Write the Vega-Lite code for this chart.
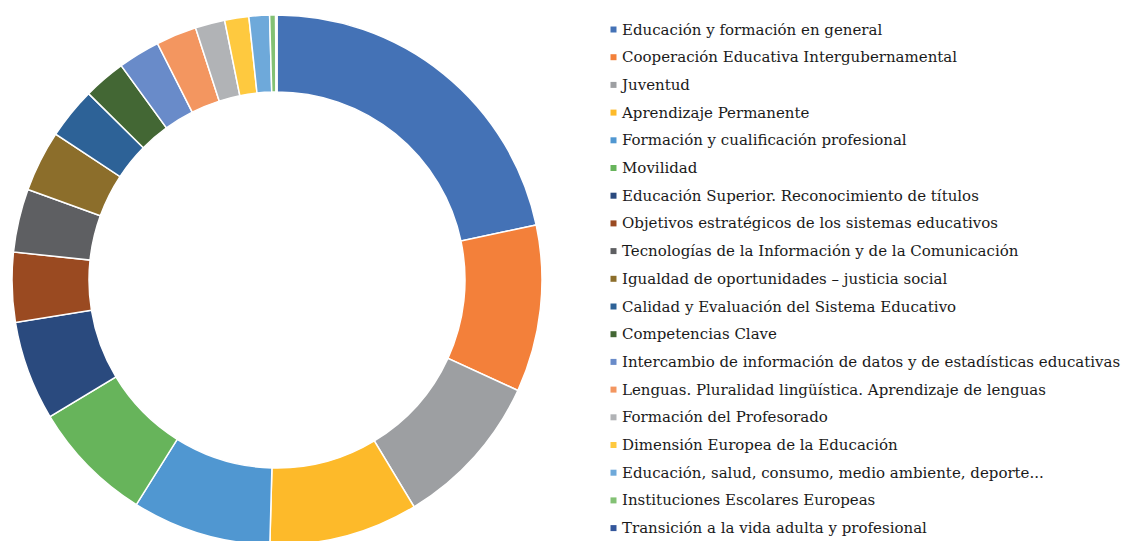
{
  "$schema": "https://vega.github.io/schema/vega-lite/v6.json",
  "width": 554,
  "height": 560,
  "autosize": {"type": "none"},
  "padding": {"left": 0, "top": 0, "right": 567, "bottom": 0},
  "background": "white",
  "data": {
    "values": [
      {"idx": 1, "tema": "Educación y formación en general", "valor": 78.0},
      {"idx": 2, "tema": "Cooperación Educativa Intergubernamental", "valor": 36.6},
      {"idx": 3, "tema": "Juventud", "valor": 34.2},
      {"idx": 4, "tema": "Aprendizaje Permanente", "valor": 32.7},
      {"idx": 5, "tema": "Formación y cualificación profesional", "valor": 30.5},
      {"idx": 6, "tema": "Movilidad", "valor": 26.9},
      {"idx": 7, "tema": "Educación Superior. Reconocimiento de títulos", "valor": 21.8},
      {"idx": 8, "tema": "Objetivos estratégicos de los sistemas educativos", "valor": 15.3},
      {"idx": 9, "tema": "Tecnologías de la Información y de la Comunicación", "valor": 13.9},
      {"idx": 10, "tema": "Igualdad de oportunidades – justicia social", "valor": 13.4},
      {"idx": 11, "tema": "Calidad y Evaluación del Sistema Educativo", "valor": 11.3},
      {"idx": 12, "tema": "Competencias Clave", "valor": 9.3},
      {"idx": 13, "tema": "Intercambio de información de datos y de estadísticas educativas", "valor": 9.2},
      {"idx": 14, "tema": "Lenguas. Pluralidad lingüística. Aprendizaje de lenguas", "valor": 8.9},
      {"idx": 15, "tema": "Formación del Profesorado", "valor": 6.5},
      {"idx": 16, "tema": "Dimensión Europea de la Educación", "valor": 5.3},
      {"idx": 17, "tema": "Educación, salud, consumo, medio ambiente, deporte...", "valor": 4.5},
      {"idx": 18, "tema": "Instituciones Escolares Europeas", "valor": 1.3},
      {"idx": 19, "tema": "Transición a la vida adulta y profesional", "valor": 0.3}
    ]
  },
  "mark": {"type": "arc", "outerRadius": 265, "innerRadius": 188, "stroke": "white", "strokeWidth": 1.5},
  "encoding": {
    "theta": {"field": "valor", "type": "quantitative", "stack": true},
    "order": {"field": "idx", "type": "quantitative"},
    "color": {
      "field": "tema",
      "type": "nominal",
      "sort": null,
      "scale": {
        "domain": [
          "Educación y formación en general",
          "Cooperación Educativa Intergubernamental",
          "Juventud",
          "Aprendizaje Permanente",
          "Formación y cualificación profesional",
          "Movilidad",
          "Educación Superior. Reconocimiento de títulos",
          "Objetivos estratégicos de los sistemas educativos",
          "Tecnologías de la Información y de la Comunicación",
          "Igualdad de oportunidades – justicia social",
          "Calidad y Evaluación del Sistema Educativo",
          "Competencias Clave",
          "Intercambio de información de datos y de estadísticas educativas",
          "Lenguas. Pluralidad lingüística. Aprendizaje de lenguas",
          "Formación del Profesorado",
          "Dimensión Europea de la Educación",
          "Educación, salud, consumo, medio ambiente, deporte...",
          "Instituciones Escolares Europeas",
          "Transición a la vida adulta y profesional"
        ],
        "range": ["#4472B6", "#F3803A", "#9D9FA2", "#FDBA2A", "#5097D1", "#67B45B", "#2A4A7E", "#9A4A21", "#5E5F62", "#8C6E2B", "#2D6297", "#436734", "#698BC9", "#F39660", "#B1B3B6", "#FEC93F", "#6EA9DA", "#83C174", "#33569B"]
      },
      "legend": {
        "orient": "none",
        "legendX": 606,
        "legendY": 22,
        "title": null,
        "symbolType": "square",
        "symbolSize": 36,
        "symbolStrokeWidth": 0,
        "labelFont": "DejaVu Serif",
        "labelFontSize": 15,
        "labelColor": "#1a1a1a",
        "labelOffset": 1,
        "labelLimit": 0,
        "rowPadding": 11.7
      }
    }
  },
  "config": {"view": {"stroke": null}}
}
